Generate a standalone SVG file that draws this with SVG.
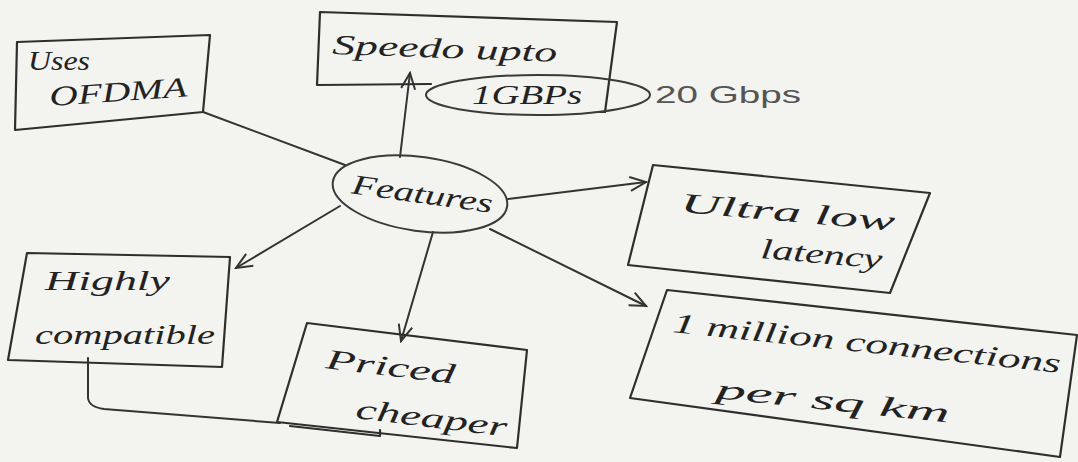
<svg xmlns="http://www.w3.org/2000/svg" width="1078" height="462" viewBox="0 0 1078 462">
<defs>
<style>
.bg{fill:#f3f3f0}
.box{fill:none;stroke:#2e2e2e;stroke-width:2.2;stroke-linejoin:round;stroke-linecap:round}
.ln{fill:none;stroke:#333;stroke-width:2;stroke-linecap:round}
.ov{fill:none;stroke:#3a3a3a;stroke-width:2}
.t{font-family:"Liberation Serif","DejaVu Serif",serif;font-style:italic;fill:#222;font-size:28px}
.tg{font-family:"Liberation Sans","DejaVu Sans",sans-serif;fill:#555;font-size:24px}
</style>
<marker id="ah" viewBox="0 0 20 20" refX="18" refY="10" markerWidth="20" markerHeight="20" markerUnits="userSpaceOnUse" orient="auto">
<path d="M2,3 L18,10 L2,17" fill="none" stroke="#333" stroke-width="2"/>
</marker>
</defs>
<rect class="bg" x="0" y="0" width="1078" height="462"/>

<g id="connectors">
<line class="ln" x1="345" y1="165" x2="203" y2="112"/>
<line class="ln" x1="400" y1="157" x2="410" y2="73" marker-end="url(#ah)"/>
<line class="ln" x1="508" y1="199" x2="646" y2="182" marker-end="url(#ah)"/>
<line class="ln" x1="340" y1="206" x2="236" y2="268" marker-end="url(#ah)"/>
<line class="ln" x1="433" y1="232" x2="401" y2="341" marker-end="url(#ah)"/>
<line class="ln" x1="490" y1="229" x2="646" y2="306" marker-end="url(#ah)"/>
<path class="ln" d="M88,358 L88,398 Q89,407 104,409 L280,423"/>
</g>

<g id="features">
<ellipse class="ov" cx="420" cy="194" rx="88" ry="37" transform="rotate(8 420 194)"/>
<text class="t" x="350" y="203" font-size="30" transform="rotate(8 420 203)" textLength="142" lengthAdjust="spacingAndGlyphs">Features</text>
</g>

<g id="uses-ofdma">
<path class="box" d="M17,42 L210,35 L203,112 L15,130 Z"/>
<text class="t" x="28" y="70" textLength="62" lengthAdjust="spacingAndGlyphs">Uses</text>
<text class="t" x="50" y="106" textLength="138" lengthAdjust="spacingAndGlyphs" transform="rotate(-4 50 106)">OFDMA</text>
</g>

<g id="speeds">
<path class="box" d="M431,84 L317,85 L320,12 L617,22 L605,112 L600,112"/>
<text class="t" x="332" y="54" font-size="30" textLength="225" lengthAdjust="spacingAndGlyphs" transform="rotate(2 332 54)">Speedo upto</text>
<ellipse class="ov" cx="538" cy="95" rx="112" ry="20"/>
<text class="t" x="472" y="104" font-size="24" textLength="110" lengthAdjust="spacingAndGlyphs" fill="#444">1GBPs</text>
<text class="tg" x="655" y="103" textLength="146" lengthAdjust="spacingAndGlyphs">20 Gbps</text>
</g>

<g id="ultra-low-latency">
<path class="box" d="M653,165 L930,193 L890,293 L628,265 Z"/>
<text class="t" x="680" y="212" font-size="30" textLength="215" lengthAdjust="spacingAndGlyphs" transform="rotate(5 680 212)">Ultra low</text>
<text class="t" x="760" y="258" font-size="30" textLength="122" lengthAdjust="spacingAndGlyphs" transform="rotate(5 760 258)">latency</text>
</g>

<g id="highly-compatible">
<path class="box" d="M27,253 L230,257 L222,367 L8,360 Z"/>
<text class="t" x="45" y="290" font-size="30" textLength="125" lengthAdjust="spacingAndGlyphs">Highly</text>
<text class="t" x="35" y="344" font-size="30" textLength="180" lengthAdjust="spacingAndGlyphs">compatible</text>
</g>

<g id="priced-cheaper">
<path class="box" d="M307,323 L527,350 L517,448 L277,422 Z"/>
<path class="box" d="M290,426 L380,436 L380,430"/>
<text class="t" x="325" y="368" font-size="30" textLength="130" lengthAdjust="spacingAndGlyphs" transform="rotate(7 325 368)">Priced</text>
<text class="t" x="355" y="418" font-size="30" textLength="152" lengthAdjust="spacingAndGlyphs" transform="rotate(7 355 418)">cheaper</text>
</g>

<g id="million">
<path class="box" d="M667,290 L1077,335 L1060,457 L630,398 Z"/>
<text class="t" x="672" y="332" font-size="30" textLength="390" lengthAdjust="spacingAndGlyphs" transform="rotate(6 672 332)">1 million connections</text>
<text class="t" x="715" y="398" textLength="235" lengthAdjust="spacingAndGlyphs" transform="rotate(6 715 398)">per sq km</text>
</g>
</svg>
